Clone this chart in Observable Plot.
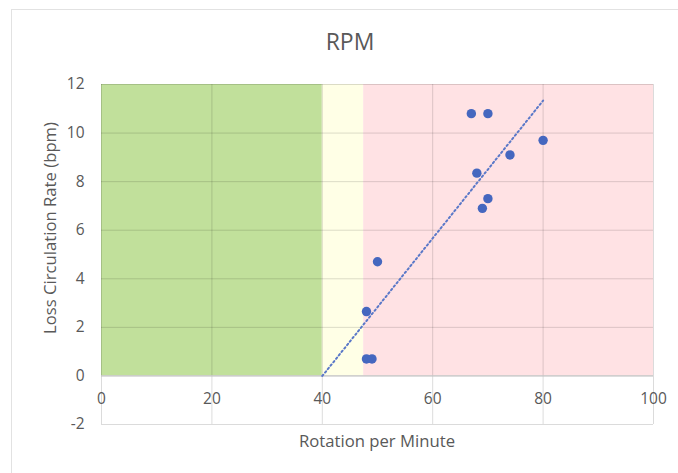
<!DOCTYPE html>
<html>
<head>
<meta charset="utf-8">
<script src="https://cdn.jsdelivr.net/npm/d3@7"></script>
<script src="https://cdn.jsdelivr.net/npm/@observablehq/plot@0.6"></script>
<style>
  html, body { margin: 0; padding: 0; background: #fff; }
  #chart { position: relative; width: 678px; height: 473px; overflow: hidden;
           font-family: "Open Sans", sans-serif; color: #595959; }
  #frame { position: absolute; left: 11px; top: 9px; width: 700px; height: 500px;
           border: 1.5px solid #e2e2e2; box-sizing: border-box; }
  #title { position: absolute; left: 0; width: 700px; top: 26px; text-align: center;
           font-size: 23px; line-height: 30px; }
  #xtitle { position: absolute; left: 101px; width: 552px; top: 429px; text-align: center;
            font-size: 16.7px; line-height: 24px; }
  #ytitle { position: absolute; left: 50px; top: 228px; width: 300px; margin-left: -150px;
            margin-top: -12px; text-align: center; font-size: 16.7px; line-height: 24px;
            transform: rotate(-90deg); }
  #chart svg { position: absolute; left: 0; top: 0; }
</style>
</head>
<body>
<div id="chart">
  <div id="frame"></div>
  <div id="title">RPM</div>
  <div id="ytitle">Loss Circulation Rate (bpm)</div>
  <div id="xtitle">Rotation per Minute</div>
</div>
<script>
// Observations: rotation speed vs. loss circulation rate
const rpm  = [67, 70, 80, 74, 68, 70, 69, 50, 48, 48, 49];
const loss = [10.8, 10.8, 9.7, 9.1, 8.35, 7.3, 6.9, 4.7, 2.65, 0.7, 0.7];

// Shaded operating zones along the RPM axis
const zoneStart = [0, 40, 47.5];
const zoneEnd   = [40, 47.5, 100];
const zoneColor = ["#c1e09b", "#ffffe6", "#ffe2e4"];
const zoneTop = 12;

const xTicks = [0, 20, 40, 60, 80, 100];
const yTicks = [-2, 0, 2, 4, 6, 8, 10, 12];

// Linear trendline, extended backward by 8 RPM
const trendBackward = 8;

const points = rpm.map((x, i) => ({x, y: loss[i]}));
const zones = zoneStart.map((s, i) => ({x1: s, x2: zoneEnd[i], fill: zoneColor[i]}));

// Least-squares fit
const mx = d3.mean(rpm), my = d3.mean(loss);
const slope = d3.sum(rpm, (x, i) => (x - mx) * (loss[i] - my)) / d3.sum(rpm, x => (x - mx) ** 2);
const intercept = my - slope * mx;
const trendX = [d3.min(rpm) - trendBackward, d3.max(rpm)];
const trend = trendX.map(x => ({x, y: intercept + slope * x}));

const blue = "#4567bf";
const ink = "#595959";
const plain = d => String(d); // hyphen-minus, as in the spreadsheet

const chart = Plot.plot({
  width: 678,
  height: 473,
  marginLeft: 101,
  marginRight: 25,
  marginTop: 84,
  marginBottom: 49,
  style: {fontFamily: "'Open Sans', sans-serif", fontSize: "15.5px", color: ink, background: "transparent"},
  x: {domain: [0, 100], axis: null},
  y: {domain: [-2, 12]},
  marks: [
    Plot.rect(zones, {x1: "x1", x2: "x2", y1: 0, y2: zoneTop, fill: "fill"}),
    Plot.gridX(xTicks, {stroke: "#000", strokeOpacity: 0.14, strokeWidth: 1}),
    Plot.gridY(yTicks, {stroke: "#000", strokeOpacity: 0.14, strokeWidth: 1}),
    Plot.ruleY([0], {stroke: "#c9c9c9", strokeWidth: 1.2}),
    Plot.axisY(yTicks, {tickSize: 0, tickPadding: 17, label: null, fill: ink, tickFormat: plain}),
    Plot.text(xTicks, {x: d => d, y: 0, dy: 23, fill: ink, fontSize: 15.5, text: plain}),
    Plot.line(trend, {x: "x", y: "y", stroke: "#5a78c8", strokeWidth: 2, strokeDasharray: "1.6,2.8"}),
    Plot.dot(points, {x: "x", y: "y", r: 4.7, fill: blue})
  ]
});
document.getElementById("chart").appendChild(chart);
</script>
</body>
</html>
